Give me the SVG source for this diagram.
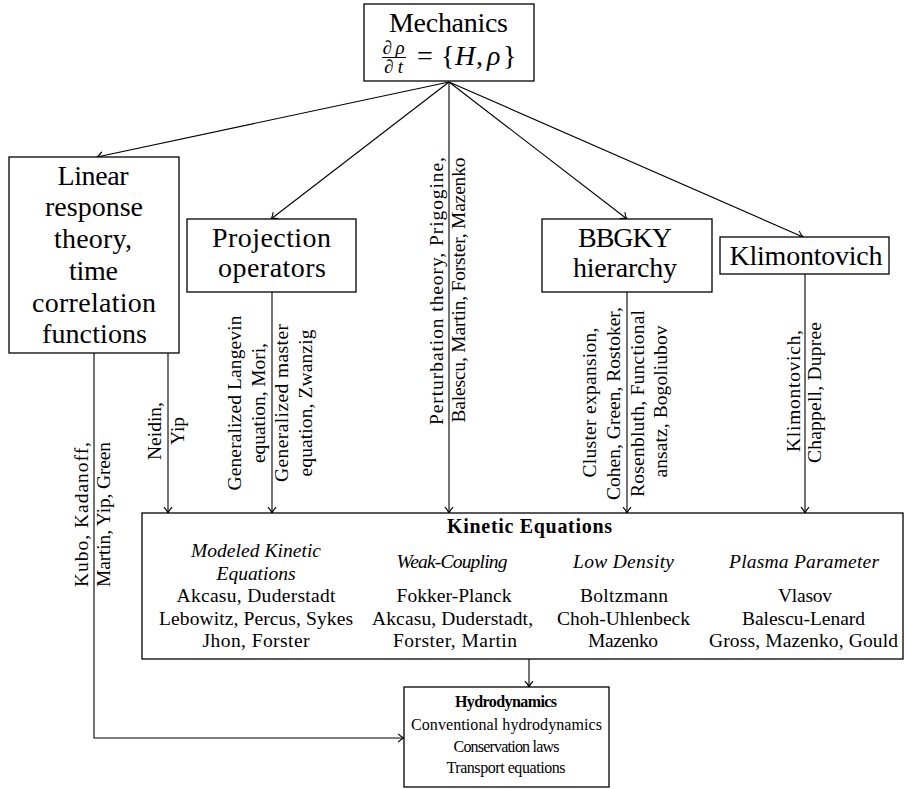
<svg xmlns="http://www.w3.org/2000/svg" width="907" height="789" viewBox="0 0 907 789" font-family="'Liberation Serif', 'Times New Roman', serif">
<defs>
<style>
text{font-family:'Liberation Serif','Times New Roman',serif;fill:#000}
.box{fill:#fff;stroke:#000;stroke-width:1.3}
.big{font-size:28px;text-anchor:middle}
.sm{font-size:19.5px;text-anchor:middle}
.it{font-style:italic}
.hy{font-size:16px;text-anchor:middle}
.edge{fill:none;stroke:#000;stroke-width:1.1;marker-end:url(#arr)}
</style>
<marker id="arr" markerUnits="userSpaceOnUse" markerWidth="12" markerHeight="12" viewBox="-7 -6 8 12" refX="0" refY="0" orient="auto">
<path d="M-5.5,-3.8 C-3.5,-1.6 -1.3,-0.5 0,0 C-1.3,0.5 -3.5,1.6 -5.5,3.8" fill="none" stroke="#000" stroke-width="1.1" stroke-linecap="round"/>
</marker>
</defs>
<rect width="907" height="789" fill="#fff"/>

<g id="connectors">
<path class="edge" d="M449,82 L97,157"/>
<path class="edge" d="M449,82 L271,219"/>
<path class="edge" d="M449,82 L449,513"/>
<path class="edge" d="M449,82 L627,219"/>
<path class="edge" d="M449,82 L803,237"/>
<path class="edge" d="M168,353 L168,513"/>
<path class="edge" d="M272,292 L272,513"/>
<path class="edge" d="M627,292 L627,513"/>
<path class="edge" d="M805,274 L805,513"/>
<path class="edge" d="M94,353 L94,738 L404,738"/>
<path class="edge" d="M529,659 L529,687"/>
</g>

<g id="labels">
<text class="sm" transform="translate(88,514.5) rotate(-90)" textLength="145">Kubo, Kadanoff,</text>
<text class="sm" transform="translate(110,514.5) rotate(-90)" textLength="145">Martin, Yip, Green</text>
<text class="sm" transform="translate(161,431) rotate(-90)" textLength="58">Neidin,</text>
<text class="sm" transform="translate(184,431) rotate(-90)">Yip</text>
<text class="sm" transform="translate(241,403) rotate(-90)" textLength="175">Generalized Langevin</text>
<text class="sm" transform="translate(264.5,403) rotate(-90)" textLength="120">equation, Mori,</text>
<text class="sm" transform="translate(288,403) rotate(-90)" textLength="158">Generalized master</text>
<text class="sm" transform="translate(311.5,403) rotate(-90)" textLength="147">equation, Zwanzig</text>
<text class="sm" transform="translate(443,291) rotate(-90)" textLength="268">Perturbation theory, Prigogine,</text>
<text class="sm" transform="translate(465,290) rotate(-90)" textLength="265">Balescu, Martin, Forster, Mazenko</text>
<text class="sm" transform="translate(596,402.5) rotate(-90)" textLength="150">Cluster expansion,</text>
<text class="sm" transform="translate(620,403.5) rotate(-90)" textLength="193">Cohen, Green, Rostoker,</text>
<text class="sm" transform="translate(644,403.5) rotate(-90)" textLength="187">Rosenbluth, Functional</text>
<text class="sm" transform="translate(667,401.5) rotate(-90)" textLength="152">ansatz, Bogoliubov</text>
<text class="sm" transform="translate(800,391) rotate(-90)" textLength="122">Klimontovich,</text>
<text class="sm" transform="translate(821,392.5) rotate(-90)" textLength="141">Chappell, Dupree</text>
</g>

<g id="mechanics">
<rect class="box" x="364" y="4" width="170" height="77"/>
<text class="big" x="448.5" y="32" textLength="119">Mechanics</text>
<text x="393.5" y="53.5" font-size="19" text-anchor="middle" class="it" textLength="22">∂ρ</text>
<line x1="382" y1="57.5" x2="406" y2="57.5" stroke="#000" stroke-width="1"/>
<text x="393.5" y="73" font-size="19" text-anchor="middle" class="it" textLength="19">∂t</text>
<text x="417" y="65" font-size="28">=</text>
<text x="441" y="65" font-size="28">{</text>
<text x="455" y="65" font-size="28" class="it">H</text>
<text x="476" y="65" font-size="28">,</text>
<text x="487" y="65" font-size="28" class="it">ρ</text>
<text x="503" y="65" font-size="28">}</text>
</g>

<g id="linear-response">
<rect class="box" x="9" y="157" width="170" height="196"/>
<text class="big" x="93" y="185" textLength="71">Linear</text>
<text class="big" x="94" y="216" textLength="98">response</text>
<text class="big" x="93" y="248" textLength="78">theory,</text>
<text class="big" x="93.5" y="280" textLength="49">time</text>
<text class="big" x="94" y="312" textLength="124">correlation</text>
<text class="big" x="94.5" y="343" textLength="105">functions</text>
</g>

<g id="projection">
<rect class="box" x="187" y="219" width="169" height="73"/>
<text class="big" x="271.5" y="247" textLength="119">Projection</text>
<text class="big" x="272" y="277" textLength="108">operators</text>
</g>

<g id="bbgky">
<rect class="box" x="542" y="219" width="170" height="73"/>
<text class="big" x="625" y="247" textLength="94">BBGKY</text>
<text class="big" x="625" y="277" textLength="104">hierarchy</text>
</g>

<g id="klimontovich">
<rect class="box" x="720" y="237" width="169" height="37"/>
<text class="big" x="806" y="265" textLength="153">Klimontovich</text>
</g>

<g id="kinetic">
<rect class="box" x="142" y="513" width="761" height="146"/>
<text x="529.5" y="533" font-size="20" font-weight="bold" text-anchor="middle" textLength="165">Kinetic Equations</text>
<text class="sm it" x="256" y="557" textLength="130">Modeled Kinetic</text>
<text class="sm it" x="256" y="580" textLength="79">Equations</text>
<text class="sm" x="256" y="602" textLength="159">Akcasu, Duderstadt</text>
<text class="sm" x="256" y="625" textLength="194">Lebowitz, Percus, Sykes</text>
<text class="sm" x="256" y="647" textLength="107">Jhon, Forster</text>
<text class="sm it" x="452" y="568" textLength="111">Weak-Coupling</text>
<text class="sm" x="454" y="602" textLength="115">Fokker-Planck</text>
<text class="sm" x="452.5" y="625" textLength="161">Akcasu, Duderstadt,</text>
<text class="sm" x="455" y="647" textLength="124">Forster, Martin</text>
<text class="sm it" x="623.5" y="568" textLength="101">Low Density</text>
<text class="sm" x="624" y="602" textLength="88">Boltzmann</text>
<text class="sm" x="623.5" y="625" textLength="133">Choh-Uhlenbeck</text>
<text class="sm" x="623" y="647" textLength="70">Mazenko</text>
<text class="sm it" x="804" y="568" textLength="150">Plasma Parameter</text>
<text class="sm" x="805" y="602" textLength="54">Vlasov</text>
<text class="sm" x="803.5" y="625" textLength="123">Balescu-Lenard</text>
<text class="sm" x="803.5" y="647" textLength="189">Gross, Mazenko, Gould</text>
</g>

<g id="hydrodynamics">
<rect class="box" x="404" y="687" width="205" height="100"/>
<text class="hy" x="506" y="707" font-weight="bold" font-size="15" textLength="102">Hydrodynamics</text>
<text class="hy" x="506.5" y="730" textLength="191">Conventional hydrodynamics</text>
<text class="hy" x="506.5" y="752" font-size="15" textLength="106">Conservation laws</text>
<text class="hy" x="506" y="773" font-size="15" textLength="119">Transport equations</text>
</g>
</svg>
